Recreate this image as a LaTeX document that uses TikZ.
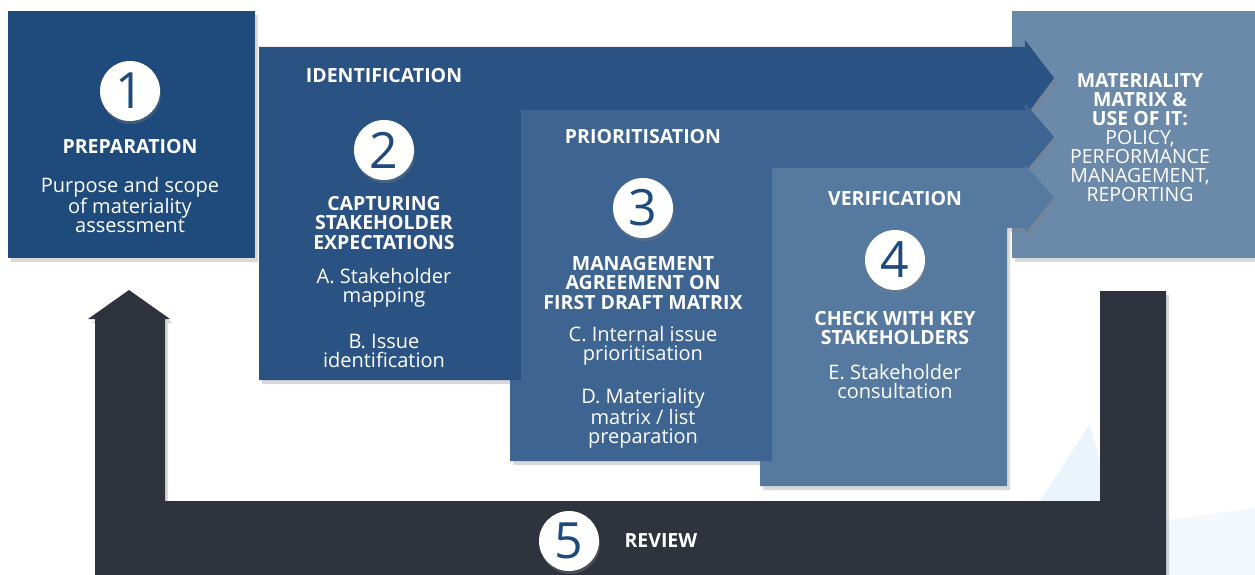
\documentclass[tikz,border=0pt]{standalone}
\usepackage{fontspec}
\setmainfont{Open Sans}
\usepackage{tikz}
\usetikzlibrary{shadows}

\definecolor{prepblue}{HTML}{1F4A7C}
\definecolor{identblue}{HTML}{2A5384}
\definecolor{prioblue}{HTML}{3E6491}
\definecolor{verifblue}{HTML}{56799F}
\definecolor{matrixblue}{HTML}{6B89A9}
\definecolor{reviewgrey}{HTML}{2E333D}
\definecolor{paleblue}{HTML}{EBF4FB}

\tikzset{
    stage/.style={drop shadow={opacity=0.3, shadow xshift=3pt, shadow yshift=-4pt}},
    num/.style={circle, fill=white, minimum size=60pt, inner sep=0pt, text=prepblue,
        font=\fontsize{50}{50}\selectfont, drop shadow={opacity=0.35, shadow xshift=1pt, shadow yshift=-3pt}},
    head/.style={text=white, align=center, font=\bfseries\fontsize{19.5}{19.5}\selectfont},
    body/.style={text=white, align=center, font=\fontsize{20}{19}\selectfont},
}

\begin{document}
\begin{tikzpicture}[x=1pt, y=-1pt]
    \useasboundingbox (0,0) rectangle (1255,575);

    % faint background shapes
    \fill[paleblue] (1040,501) -- (1090,424) -- (1110,501) -- cycle;
    \fill[paleblue!60] (1166,575) -- (1166,520) -- (1255,508) -- (1255,575) -- cycle;

    % result box
    \fill[matrixblue, stage] (1012,11) rectangle (1255,258);

    % identification arrow
    \fill[identblue, stage] (259,47) -- (1025,47) -- (1025,40) -- (1054,78) -- (1025,117)
        -- (1025,110) -- (521,110) -- (521,380) -- (259,380) -- cycle;

    % prioritisation arrow
    \fill[prioblue, stage] (521,110) -- (1025,110) -- (1025,103) -- (1054,137) -- (1025,172)
        -- (1025,168) -- (772,168) -- (772,461) -- (510,461) -- (510,380) -- (521,380) -- cycle;

    % verification arrow
    \fill[verifblue, stage] (772,168) -- (1025,168) -- (1025,165) -- (1054,197) -- (1025,233)
        -- (1025,228) -- (1007,228) -- (1007,486) -- (760,486) -- (760,461) -- (772,461) -- cycle;

    % preparation box
    \fill[prepblue, stage] (8,11) rectangle (255,258);

    % review loop back to preparation
    \fill[reviewgrey, stage] (95,575) -- (95,319) -- (88,319) -- (129,290) -- (170,319) -- (165,319)
        -- (165,501) -- (1100,501) -- (1100,291) -- (1166,291) -- (1166,575) -- cycle;

    % step 1
    \node[num] (one) at (130,91) {1};
    \node[head] (prep) at (130,147) {PREPARATION};
    \node[body] (prepText) at (130,205) {Purpose and scope\\of materiality\\assessment};

    % step 2
    \node[head] (ident) at (384,76) {IDENTIFICATION};
    \node[num] (two) at (384,150) {2};
    \node[head] (capture) at (384,223) {CAPTURING\\STAKEHOLDER\\EXPECTATIONS};
    \node[body] (mapping) at (384,288) {A. Stakeholder\\mapping};
    \node[body] (issue) at (384,351) {B. Issue\\identification};

    % step 3
    \node[head] (prio) at (643,137) {PRIORITISATION};
    \node[num] (three) at (643,208) {3};
    \node[head] (agree) at (643,283) {MANAGEMENT\\AGREEMENT ON\\FIRST DRAFT MATRIX};
    \node[body] (internal) at (643,346) {C. Internal issue\\prioritisation};
    \node[body] (matrixList) at (643,418) {D. Materiality\\matrix / list\\preparation};

    % step 4
    \node[head] (verif) at (895,199) {VERIFICATION};
    \node[num] (four) at (895,260) {4};
    \node[head] (check) at (895,328) {CHECK WITH KEY\\STAKEHOLDERS};
    \node[body] (consult) at (895,381) {E. Stakeholder\\consultation};

    % result
    \node[text=white, align=center, font=\fontsize{19.5}{19}\selectfont] (result) at (1140,138)
        {\textbf{MATERIALITY}\\\textbf{MATRIX \&}\\\textbf{USE OF IT:}\\POLICY,\\PERFORMANCE\\MANAGEMENT,\\REPORTING};

    % step 5
    \node[num] (five) at (569,541) {5};
    \node[head, anchor=west] (review) at (621,541) {REVIEW};
\end{tikzpicture}
\end{document}
